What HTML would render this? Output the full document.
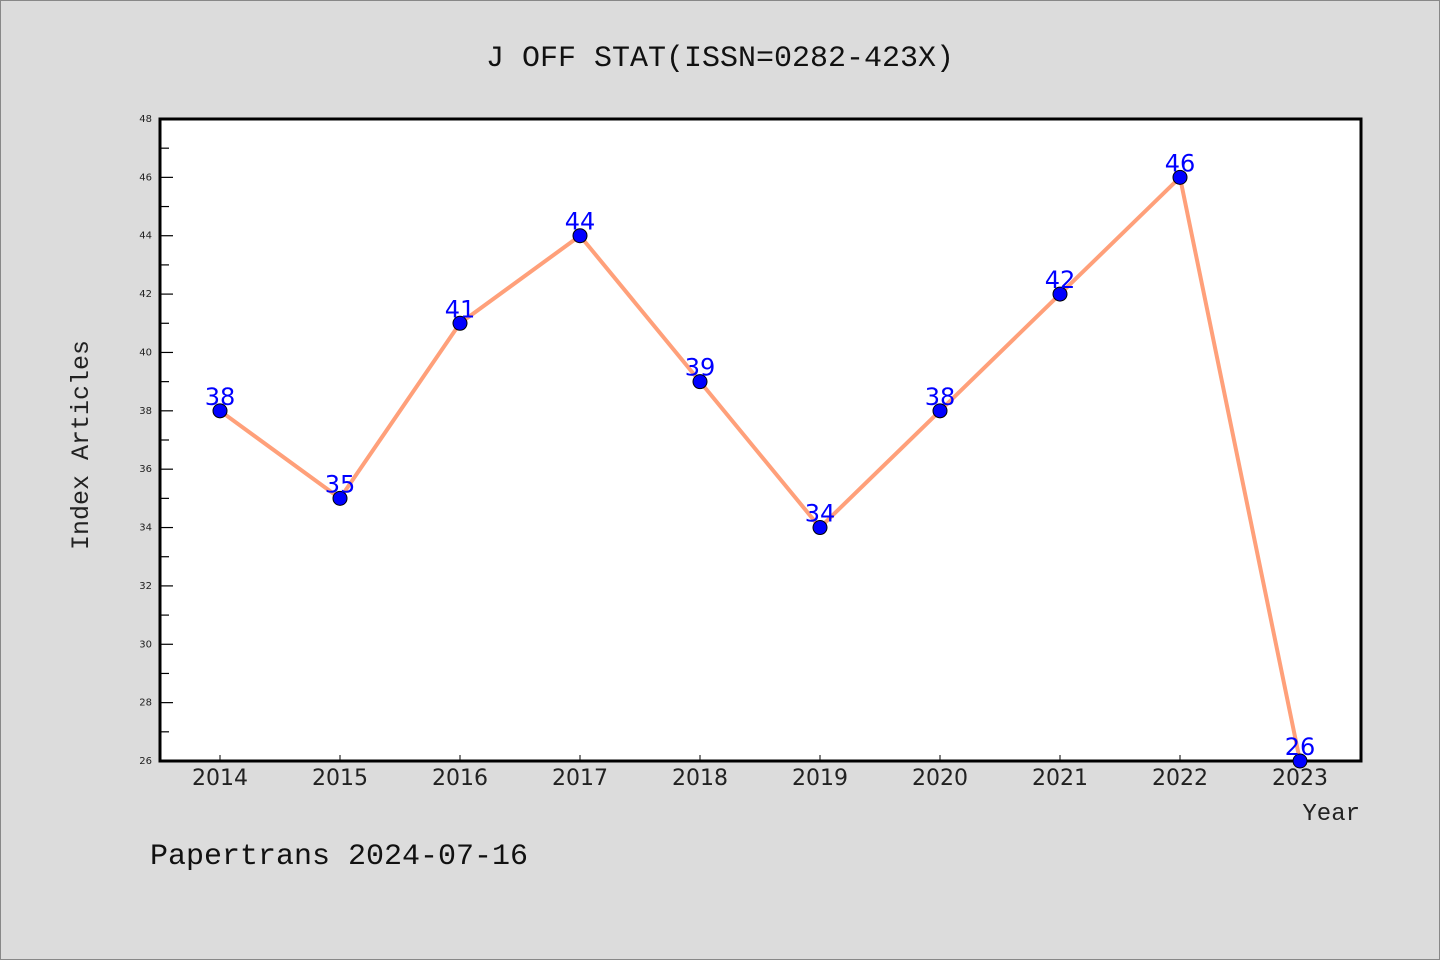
<!DOCTYPE html>
<html><head><meta charset="utf-8"><style>
html,body{margin:0;padding:0;background:#dcdcdc;}
svg{display:block;}
</style></head><body>
<svg id="chart" width="1440" height="960" xmlns="http://www.w3.org/2000/svg">
<rect x="0.5" y="0.5" width="1439" height="959" fill="#dcdcdc" stroke="#888"/>
<text x="720" y="66" text-anchor="middle" font-family="'WenQuanYi Zen Hei Mono','Liberation Mono',monospace" font-size="30" fill="#111">J OFF STAT(ISSN=0282-423X)</text>
<rect x="160" y="119" width="1201" height="642" fill="#fff"/>
<g id="ticks"></g>
<g id="series"></g>
<rect x="160" y="119" width="1201" height="642" fill="none" stroke="#000" stroke-width="3"/>
<g id="marks"></g>
<text x="88" y="445" transform="rotate(-90 88 445)" text-anchor="middle" font-family="'WenQuanYi Zen Hei Mono','Liberation Mono',monospace" font-size="25" fill="#222">Index Articles</text>
<text x="1360" y="820" text-anchor="end" font-family="'WenQuanYi Zen Hei Mono','Liberation Mono',monospace" font-size="24" fill="#222">Year</text>
<text x="150" y="864" font-family="'WenQuanYi Zen Hei Mono','Liberation Mono',monospace" font-size="30" fill="#111">Papertrans 2024-07-16</text>
</svg>
<script>
const years = ["2014","2015","2016","2017","2018","2019","2020","2021","2022","2023"];
const counts = [38,35,41,44,39,34,38,42,46,26];
const yTicks = [26,28,30,32,34,36,38,40,42,44,46,48];
const NS="http://www.w3.org/2000/svg";
const x0=220, dx=120, yMin=26, yMax=48, yTop=119, yBot=761;
const xs=i=>x0+i*dx;
const ys=v=>yBot-(v-yMin)/(yMax-yMin)*(yBot-yTop);
function mk(tag,attrs,parent){const e=document.createElementNS(NS,tag);for(const k in attrs)e.setAttribute(k,attrs[k]);parent.appendChild(e);return e;}
const tg=document.getElementById('ticks'), sg=document.getElementById('series'), mg=document.getElementById('marks');
yTicks.forEach((t,i)=>{
  const y=ys(t);
  const l=mk('line',{x1:160,x2:173,y1:y,y2:y,stroke:'#000','stroke-width':1.2},tg);
  
  
  const tx=mk('text',{x:152,y:y+3,'text-anchor':'end','font-family':'DejaVu Sans, sans-serif','font-size':10,fill:'#222'},tg);
  tx.textContent=t;
  
  
  if(i<yTicks.length-1){
    const ym=ys(t+1);
    const m=mk('line',{x1:160,x2:169,y1:ym,y2:ym,stroke:'#000','stroke-width':1.2},tg);
    
    
  }
});
years.forEach((yr,i)=>{
  const x=xs(i);
  const l=mk('line',{x1:x,x2:x,y1:yBot,y2:yBot-6,stroke:'#000','stroke-width':1},tg);
  
  
  const tx=mk('text',{x:x,y:785,'text-anchor':'middle','font-family':'DejaVu Sans, sans-serif','font-size':22,fill:'#222'},tg);
  tx.textContent=yr;
  
  
});
const pts=counts.map((v,i)=>xs(i)+','+ys(v)).join(' ');
const pl=mk('polyline',{points:pts,fill:'none',stroke:'#ffa07a','stroke-width':4,'stroke-linejoin':'round'},sg);


counts.forEach((v,i)=>{
  const c=mk('circle',{cx:xs(i),cy:ys(v),r:7,fill:'#0000ff',stroke:'#000','stroke-width':1},mg);
  
  
  const t=mk('text',{x:xs(i),y:ys(v)-6,'text-anchor':'middle','font-family':'DejaVu Sans, sans-serif','font-size':24,fill:'#0000ff'},mg);
  t.textContent=v;
  
  
});
</script>
</body></html>
